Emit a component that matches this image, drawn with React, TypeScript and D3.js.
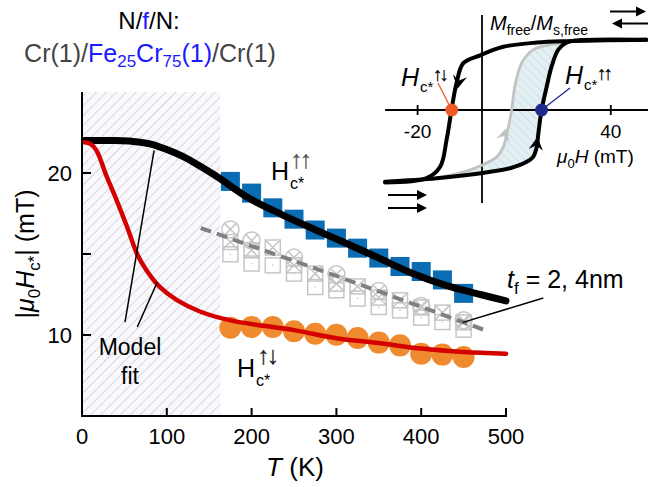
import React, { useEffect } from "react";
import * as d3 from "d3";

// ---------- main panel data ----------
const T_DATA = [175, 200, 225, 250, 275, 300, 325, 350, 375, 400, 425, 450];
const HC_PARALLEL = [19.48, 18.76, 17.85, 17.15, 16.48, 15.98, 15.36, 14.75, 14.23, 13.92, 13.4, 12.57];
const HC_ANTI = [10.45, 10.49, 10.49, 10.23, 10.08, 10.02, 9.82, 9.53, 9.36, 8.85, 8.79, 8.64];

const T_CIRC = [175, 200, 250, 300, 350, 400, 450];
const GRAY_CIRC = [16.52, 15.84, 14.78, 13.75, 12.72, 11.79, 10.91];
const GRAY_SQX = [15.74, 15.23, 15.4, 14.3, 13.79, 13.17, 13.0, 12.31, 12.14, 11.7, 11.38, 10.78];
const GRAY_SQDOT = [14.98, 14.41, 14.3, 13.79, 12.96, 12.76, 12.25, 11.73, 11.52, 11.07, 10.8, 10.33];

const GRAY_TREND_T = [140, 300, 475];
const GRAY_TREND_V = [16.6, 13.65, 10.3];

const FIT_PAR_T = [3, 20, 40, 60, 80, 100, 120, 140, 160, 195, 235, 275, 312, 350, 390, 430, 470, 500];
const FIT_PAR_V = [22.0, 22.0, 22.0, 21.95, 21.8, 21.45, 21.0, 20.4, 19.75, 18.5, 17.45, 16.5, 15.65, 14.75, 13.8, 13.05, 12.5, 12.1];
const FIT_AP_T = [3, 10, 17, 29, 41, 53, 65, 76, 92, 112, 139, 175, 250, 300, 350, 400, 450, 500];
const FIT_AP_V = [21.9, 21.8, 21.4, 19.8, 18.3, 16.7, 15.0, 14.0, 12.95, 12.15, 11.45, 10.9, 10.3, 9.8, 9.5, 9.16, 8.95, 8.85];

const X_TICKS = [0, 100, 200, 300, 400, 500];
const Y_TICKS = [10, 15, 20];
const Y_TICK_LABELS = ["10", "", "20"];
const HATCH_T_MAX = 163;

// ---------- inset (hysteresis loop) data ----------
const DESC_H = [51.1, 26.3, 17, 6.6, -0.6, -5.8, -7.9, -9.4, -11, -13, -17.2, -30.1];
const DESC_M = [0.99, 0.97, 0.95, 0.89, 0.77, 0.66, 0.38, 0.02, -0.42, -0.8, -0.96, -1.02];
const ASC_H = [-30.1, -14.1, -0.3, 8.7, 13.9, 15.9, 17, 17.5, 18.5, 20.1, 21.6, 23.7, 26.3, 29.4, 51.1];
const ASC_M = [-1.01, -0.96, -0.89, -0.82, -0.73, -0.66, -0.52, -0.33, 0, 0.33, 0.61, 0.85, 0.95, 0.98, 0.99];
const GRAY_H = [-14.1, -4.75, -0.6, 4.6, 6.6, 8.2, 9.2, 10.2, 12.3, 15.9, 21.1, 26.3];
const GRAY_M = [-0.96, -0.86, -0.79, -0.66, -0.52, -0.24, 0, 0.33, 0.66, 0.85, 0.92, 0.95];
const HC_AP_INSET = -9.4;
const HC_PAR_INSET = 18.5;
const INSET_TICKS = [-20, 40];

const FONT = "'Liberation Sans', Arial, Helvetica, sans-serif";

const zip = (a: number[], b: number[]) => a.map((v, i) => [v, b[i]] as [number, number]);

function arrowPath(px: number, py: number, ang: number, s: number) {
  const pts = [
    [0, 0],
    [-s, -s * 0.55],
    [-s * 0.65, 0],
    [-s, s * 0.55],
  ].map(([a, b]) => {
    const c = Math.cos(ang), sn = Math.sin(ang);
    return [px + a * c - b * sn, py + a * sn + b * c];
  });
  return "M" + pts.map((p) => p.join(",")).join("L") + "Z";
}

function Arrows({ x, y, size, text, fill = "#000" }: { x: number; y: number; size: number; text: string; fill?: string }) {
  return (
    <text x={x} y={y} fontSize={size} fill={fill} stroke={fill} strokeWidth={0.25} fontFamily={FONT} letterSpacing={-3}>
      {text}
    </text>
  );
}

export default function App() {
  useEffect(() => {
    document.body.style.margin = "0";
  }, []);

  const x = d3.scaleLinear().domain([0, 500]).range([82, 506]);
  const y = d3.scaleLinear().domain([5, 25]).range([416, 92]);

  const hx = d3.scaleLinear().domain([0, 40]).range([482, 610.8]);
  const hy = d3.scaleLinear().domain([-1, 1]).range([181, 39]);

  const line = d3
    .line<[number, number]>()
    .x((d) => x(d[0]))
    .y((d) => y(d[1]))
    .curve(d3.curveCatmullRom.alpha(0.5));
  const lineStraight = d3
    .line<[number, number]>()
    .x((d) => x(d[0]))
    .y((d) => y(d[1]));
  const iline = d3
    .line<[number, number]>()
    .x((d) => hx(d[0]))
    .y((d) => hy(d[1]))
    .curve(d3.curveCatmullRom.alpha(0.5));

  const grayCol = "#c6c6c6";
  const sq = 15;
  const bsq = 19;

  const shadePts = [...zip(GRAY_H, GRAY_M), ...zip(ASC_H, ASC_M).filter((p) => p[0] >= -14.1 && p[0] <= 26.3).reverse()];

  const ang = (h1: number, m1: number, h2: number, m2: number) =>
    Math.atan2(hy(m2) - hy(m1), hx(h2) - hx(h1));

  return (
    <svg width={648} height={487} style={{ position: "absolute", left: 0, top: 0, display: "block" }} fontFamily={FONT}>
      <defs>
        <pattern id="hatch" patternUnits="userSpaceOnUse" width={7} height={7} patternTransform="rotate(45)">
          <rect width={7} height={7} fill="#f8f8fd" />
          <line x1={0} y1={0} x2={0} y2={7} stroke="#cdcdd1" strokeWidth={1.5} />
        </pattern>
        <pattern id="hatch2" patternUnits="userSpaceOnUse" width={6} height={6} patternTransform="rotate(-45)">
          <rect width={6} height={6} fill="#e3f0f3" />
          <line x1={0} y1={0} x2={0} y2={6} stroke="#b9c6ca" strokeWidth={0.8} />
        </pattern>
      </defs>
      <rect width={648} height={487} fill="#fff" />

      {/* hatched low-T region */}
      <rect x={x(0)} y={y(25)} width={x(HATCH_T_MAX) - x(0)} height={y(5) - y(25)} fill="url(#hatch)" />

      {/* gray t_f = 2,4 nm data */}
      <g stroke={grayCol} strokeWidth={1.5} fill="none">
        {T_DATA.map((t, i) => (
          <g key={"sd" + i}>
            <rect x={x(t) - sq / 2} y={y(GRAY_SQDOT[i]) - sq / 2} width={sq} height={sq} />
            <circle cx={x(t)} cy={y(GRAY_SQDOT[i])} r={0.8} fill={grayCol} stroke="none" />
          </g>
        ))}
        {T_DATA.map((t, i) => (
          <g key={"sx" + i}>
            <rect x={x(t) - sq / 2} y={y(GRAY_SQX[i]) - sq / 2} width={sq} height={sq} />
            <path
              d={`M${x(t) - sq / 2},${y(GRAY_SQX[i]) - sq / 2}L${x(t) + sq / 2},${y(GRAY_SQX[i]) + sq / 2}M${x(t) + sq / 2},${y(GRAY_SQX[i]) - sq / 2}L${x(t) - sq / 2},${y(GRAY_SQX[i]) + sq / 2}`}
            />
          </g>
        ))}
        {T_CIRC.map((t, i) => {
          const cx = x(t), cy = y(GRAY_CIRC[i]), r = 8.5, k = r * 0.707;
          return (
            <g key={"c" + i}>
              <circle cx={cx} cy={cy} r={r} />
              <path d={`M${cx - k},${cy - k}L${cx + k},${cy + k}M${cx + k},${cy - k}L${cx - k},${cy + k}`} />
            </g>
          );
        })}
      </g>
      <path d={lineStraight(zip(GRAY_TREND_T, GRAY_TREND_V)) || ""} stroke="#808080" strokeWidth={4} strokeDasharray="11 6" fill="none" />

      {/* blue squares (parallel) */}
      {T_DATA.map((t, i) => (
        <rect key={"b" + i} x={x(t) - bsq / 2} y={y(HC_PARALLEL[i]) - bsq / 2} width={bsq} height={bsq} fill="#0a6db3" />
      ))}
      {/* orange circles (antiparallel) */}
      {T_DATA.map((t, i) => (
        <circle key={"o" + i} cx={x(t)} cy={y(HC_ANTI[i])} r={11} fill="#f08a2e" />
      ))}

      {/* model fits */}
      <path d={line(zip(FIT_PAR_T, FIT_PAR_V)) || ""} stroke="#000" strokeWidth={7} fill="none" strokeLinecap="round" />
      <path d={line(zip(FIT_AP_T, FIT_AP_V)) || ""} stroke="#d40000" strokeWidth={4.5} fill="none" strokeLinecap="round" />

      {/* leader lines */}
      <g stroke="#000" strokeWidth={1.5}>
        <line x1={x(50.7)} y1={y(10.8)} x2={x(85)} y2={y(21.4)} />
        <line x1={x(65.2)} y1={y(10.49)} x2={x(88.8)} y2={y(13.27)} />
        <line x1={x(449)} y1={y(10.78)} x2={x(544)} y2={y(12.28)} />
      </g>

      {/* axes */}
      <g stroke="#000" strokeWidth={2}>
        <line x1={x(0)} y1={y(5)} x2={x(0)} y2={y(25)} />
        <line x1={x(0) - 1} y1={y(5)} x2={x(500) + 1} y2={y(5)} />
        {X_TICKS.slice(1).map((t) => (
          <line key={t} x1={x(t)} x2={x(t)} y1={y(5)} y2={y(5) - 8} />
        ))}
        {Y_TICKS.map((v) => (
          <line key={v} x1={x(0)} x2={x(0) + 9} y1={y(v)} y2={y(v)} />
        ))}
      </g>
      <g fontSize={22} fill="#000">
        {X_TICKS.map((t) => (
          <text key={t} x={x(t)} y={444} textAnchor="middle">
            {t}
          </text>
        ))}
        {Y_TICKS.map((v, i) => (
          <text key={v} x={72} y={y(v) + 8} textAnchor="end">
            {Y_TICK_LABELS[i]}
          </text>
        ))}
      </g>
      <text x={295} y={476} textAnchor="middle" fontSize={26}>
        <tspan fontStyle="italic">T</tspan> (K)
      </text>
      <text transform={`translate(34,${y(15)}) rotate(-90)`} textAnchor="middle" fontSize={25}>
        |<tspan fontStyle="italic">μ</tspan>
        <tspan fontSize={17} dy={6}>0</tspan>
        <tspan fontStyle="italic" dy={-6}>H</tspan>
        <tspan fontSize={17} dy={6}>c*</tspan>
        <tspan dy={-6}>| (mT)</tspan>
      </text>

      {/* Model fit */}
      <text x={130} y={355} textAnchor="middle" fontSize={23}>Model</text>
      <text x={130} y={384} textAnchor="middle" fontSize={23}>fit</text>

      {/* H labels */}
      <text x={271} y={180} fontSize={25}>H</text>
      <text x={290} y={189} fontSize={16}>c*</text>
      <Arrows x={290} y={168} size={25} text="↑↑" fill="#555" />
      <text x={237} y={377} fontSize={25}>H</text>
      <text x={256} y={386} fontSize={16}>c*</text>
      <Arrows x={257} y={364} size={25} text="↑↓" fill="#222" />

      <text x={507} y={288} fontSize={25}>
        <tspan fontStyle="italic">t</tspan>
        <tspan fontSize={17} dy={6}>f</tspan>
        <tspan dy={-6}> = 2, 4nm</tspan>
      </text>

      {/* title */}
      <text x={149} y={29} textAnchor="middle" fontSize={24}>
        N/<tspan fill="#1a1aff">f</tspan>/N:
      </text>
      <text x={150} y={62} textAnchor="middle" fontSize={25} fill="#444">
        Cr(1)/
        <tspan fill="#1a1aff">Fe</tspan>
        <tspan fill="#1a1aff" fontSize={17} dy={5}>25</tspan>
        <tspan fill="#1a1aff" dy={-5}>Cr</tspan>
        <tspan fill="#1a1aff" fontSize={17} dy={5}>75</tspan>
        <tspan fill="#1a1aff" dy={-5}>(1)</tspan>
        <tspan>/Cr(1)</tspan>
      </text>

      {/* ---------- inset ---------- */}
      <rect x={380} y={0} width={268} height={212} fill="#fff" />
      <path d={(iline(shadePts as [number, number][]) || "") + "Z"} fill="url(#hatch2)" stroke="none" />
      <g stroke="#000" strokeWidth={1.8}>
        <line x1={hx(-30.1)} x2={hx(51.7)} y1={hy(0)} y2={hy(0)} />
        <line x1={hx(0)} x2={hx(0)} y1={15} y2={203} />
        {INSET_TICKS.map((t) => (
          <line key={t} x1={hx(t)} x2={hx(t)} y1={hy(0) - 5} y2={hy(0) + 5} />
        ))}
      </g>
      <path d={iline(zip(GRAY_H, GRAY_M)) || ""} stroke="#c2c2c2" strokeWidth={2.8} fill="none" />
      <path d={iline(zip(DESC_H, DESC_M)) || ""} stroke="#000" strokeWidth={4} fill="none" strokeLinecap="round" />
      <path d={iline(zip(ASC_H, ASC_M)) || ""} stroke="#000" strokeWidth={4} fill="none" strokeLinecap="round" />
      <path d={arrowPath(hx(-7.6), hy(0.3), ang(-7.9, 0.38, -9.4, 0.02), 13)} fill="#000" />
      <path d={arrowPath(hx(17.2), hy(-0.38), ang(17, -0.52, 17.5, -0.33), 13)} fill="#000" />
      <path d={arrowPath(hx(7.4), hy(-0.26), ang(6.6, -0.52, 8.2, -0.24), 12)} fill="#c2c2c2" />

      <line x1={438} y1={83} x2={hx(HC_AP_INSET)} y2={hy(0)} stroke="#f05a28" strokeWidth={1.3} />
      <line x1={570} y1={88} x2={hx(HC_PAR_INSET)} y2={hy(0)} stroke="#1e2a8c" strokeWidth={1.3} />
      <circle cx={hx(HC_AP_INSET)} cy={hy(0)} r={6.5} fill="#f05a28" />
      <circle cx={hx(HC_PAR_INSET)} cy={hy(0)} r={6.5} fill="#1e2a8c" />

      <g fontSize={19}>
        {INSET_TICKS.map((t) => (
          <text key={t} x={hx(t)} y={138} textAnchor="middle">
            {t}
          </text>
        ))}
      </g>
      <text x={557} y={163} fontSize={19}>
        <tspan fontStyle="italic">μ</tspan>
        <tspan fontSize={13} dy={5}>0</tspan>
        <tspan fontStyle="italic" dy={-5}>H</tspan> (mT)
      </text>
      <text x={490} y={30} fontSize={20}>
        <tspan fontStyle="italic">M</tspan>
        <tspan fontSize={14} dy={5}>free</tspan>
        <tspan dy={-5}>/</tspan>
        <tspan fontStyle="italic">M</tspan>
        <tspan fontSize={14} dy={5}>s,free</tspan>
      </text>
      <text x={401} y={86} fontSize={25} fontStyle="italic">H</text>
      <text x={420} y={92} fontSize={15}>c*</text>
      <Arrows x={433} y={81} size={19} text="↑↓" />
      <text x={565} y={84} fontSize={25} fontStyle="italic">H</text>
      <text x={584} y={90} fontSize={15}>c*</text>
      <Arrows x={597} y={80} size={19} text="↑↑" />

      {/* field direction arrows */}
      <g stroke="#000" strokeWidth={2} fill="#000">
        <line x1={610} y1={11.5} x2={640} y2={11.5} />
        <path d="M646,11.5L636,6.5L636,16.5Z" stroke="none" />
        <line x1={618} y1={23.5} x2={648} y2={23.5} />
        <path d="M612,23.5L622,18.5L622,28.5Z" stroke="none" />
        <line x1={388} y1={195} x2={420} y2={195} />
        <path d="M427,195L417,190L417,200Z" stroke="none" />
        <line x1={388} y1={208} x2={420} y2={208} />
        <path d="M427,208L417,203L417,213Z" stroke="none" />
      </g>
    </svg>
  );
}
